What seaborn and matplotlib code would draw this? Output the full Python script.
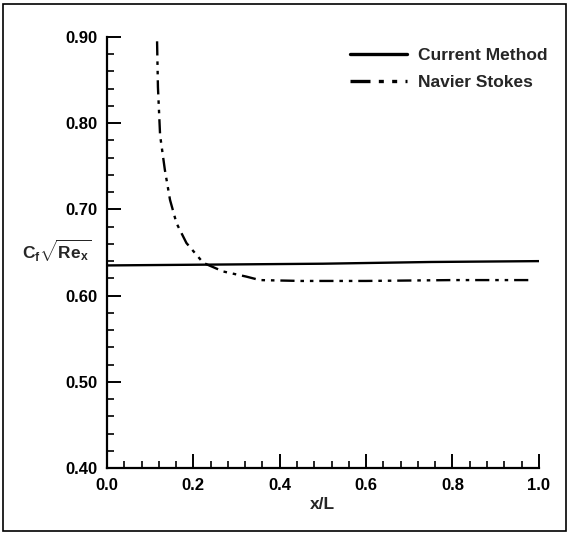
import numpy as np
import pandas as pd
import matplotlib
matplotlib.use("Agg")
import matplotlib.pyplot as plt
import seaborn as sns
from matplotlib.patches import Rectangle
from matplotlib.ticker import MultipleLocator, FormatStrFormatter

# Skin-friction data along the plate
current_x = [0.0, 0.25, 0.5, 0.75, 1.0]
current_cf = [0.635, 0.636, 0.637, 0.639, 0.640]

ns_x = [0.116, 0.118, 0.123, 0.134, 0.146, 0.161, 0.184, 0.223, 0.269, 0.323,
        0.354, 0.45, 0.6, 0.8, 0.98]
ns_cf = [0.895, 0.842, 0.786, 0.746, 0.711, 0.684, 0.661, 0.638, 0.628, 0.622,
         0.618, 0.617, 0.617, 0.618, 0.618]

series_names = ["Current Method", "Navier Stokes"]
x_ticks = [0.0, 0.2, 0.4, 0.6, 0.8, 1.0]
y_ticks = [0.40, 0.50, 0.60, 0.70, 0.80, 0.90]

sns.set_theme(style="white")
plt.rcParams["font.family"] = ["Liberation Sans", "DejaVu Sans"]
plt.rcParams["font.weight"] = "bold"
plt.rcParams["mathtext.fontset"] = "custom"
plt.rcParams["mathtext.rm"] = "Liberation Sans:bold"
plt.rcParams["mathtext.it"] = "Liberation Sans:bold"
plt.rcParams["mathtext.bf"] = "Liberation Sans:bold"
plt.rcParams["mathtext.sf"] = "Liberation Sans:bold"

fig = plt.figure(figsize=(5.69, 5.34), dpi=100)
fig.patch.set_facecolor("white")
ax = fig.add_axes([0.188, 0.1236, 0.759, 0.8071])

df_cur = pd.DataFrame({"x": current_x, "cf": current_cf})
df_ns = pd.DataFrame({"x": ns_x, "cf": ns_cf})

ns_style = (0, (6, 2.5, 1.5, 2.5, 1.5, 2.5))
sns.lineplot(data=df_cur, x="x", y="cf", ax=ax, color="black", linewidth=1.7,
             label=series_names[0], sort=False)
sns.lineplot(data=df_ns, x="x", y="cf", ax=ax, color="black", linewidth=1.7,
             linestyle=ns_style, label=series_names[1], sort=False)

ax.set_xlim(0.0, 1.0)
ax.set_ylim(0.40, 0.90)
ax.set_xticks(x_ticks)
ax.set_yticks(y_ticks)
ax.xaxis.set_minor_locator(MultipleLocator(0.04))
ax.yaxis.set_minor_locator(MultipleLocator(0.02))
ax.xaxis.set_major_formatter(FormatStrFormatter("%.1f"))
ax.yaxis.set_major_formatter(FormatStrFormatter("%.2f"))

ax.tick_params(which="major", direction="in", length=10, width=1.4,
               labelsize=12, pad=7, colors="black")
ax.tick_params(which="minor", direction="in", length=5, width=1.2, colors="black")
ax.tick_params(axis="both", which="both", top=False, right=False,
               bottom=True, left=True)
for lbl in ax.get_xticklabels() + ax.get_yticklabels():
    lbl.set_fontweight("bold")

for side in ["top", "right"]:
    ax.spines[side].set_visible(False)
for side in ["left", "bottom"]:
    ax.spines[side].set_color("black")
    ax.spines[side].set_linewidth(1.6)

ax.set_xlabel("x/L", fontsize=12.5, fontweight="bold", labelpad=3)
ax.set_ylabel(r"$C_f\sqrt{Re_x}$", fontsize=12.5, rotation=0,
              ha="center", va="center")
ax.yaxis.set_label_coords(-0.116, 0.503)

leg = ax.legend(loc="upper right", bbox_to_anchor=(0.989, 0.94),
                bbox_transform=fig.transFigure, frameon=False,
                fontsize=12.5, handlelength=3.3, labelspacing=0.7,
                handletextpad=0.6)
for t in leg.get_texts():
    t.set_fontweight("bold")
for h in leg.get_lines():
    h.set_linewidth(2.4)

# Frame around the whole figure
fig.patches.append(Rectangle((3 / 569, 3 / 534), 563 / 569, 527 / 534,
                             transform=fig.transFigure, fill=False,
                             edgecolor="black", linewidth=1.2))

fig.savefig("out.png", dpi=100, facecolor="white")
